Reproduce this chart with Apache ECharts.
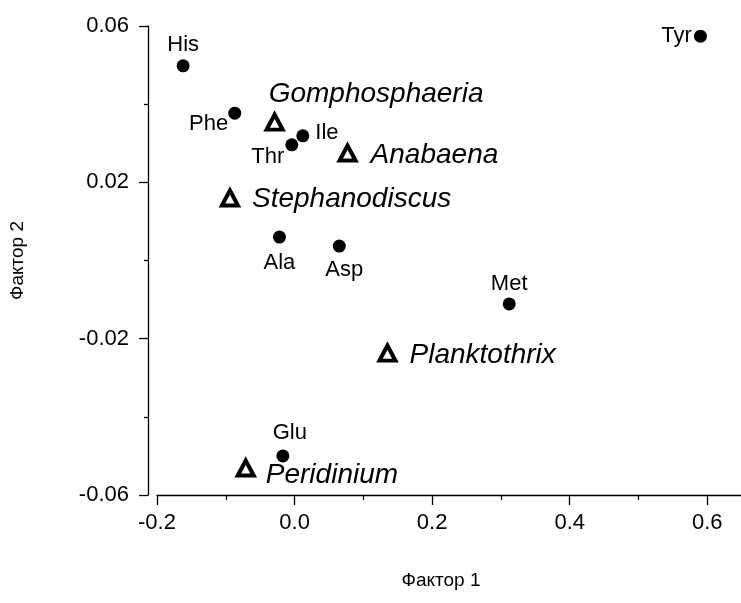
<!DOCTYPE html>
<html>
<head>
<meta charset="utf-8">
<title>Факторный анализ</title>
<script src="https://cdn.jsdelivr.net/npm/echarts@6/dist/echarts.min.js"></script>
<style>
  html, body { margin: 0; padding: 0; background: #fff; }
  #chart { width: 741px; height: 603px; }
</style>
</head>
<body>
<div id="chart"></div>
<script>
// Amino acids (filled circles): factor scores
const aminoNames = ['His', 'Phe', 'Ile', 'Thr', 'Ala', 'Asp', 'Met', 'Tyr', 'Glu'];
const aminoF1 = [-0.162, -0.087, 0.012, -0.004, -0.022, 0.065, 0.312, 0.590, -0.017];
const aminoF2 = [0.0498, 0.0377, 0.0319, 0.0296, 0.0060, 0.0037, -0.0111, 0.0574, -0.0500];

// Algal taxa (open triangles): factor scores
const taxaNames = ['Gomphosphaeria', 'Anabaena', 'Stephanodiscus', 'Planktothrix', 'Peridinium'];
const taxaF1 = [-0.029, 0.077, -0.094, 0.135, -0.071];
const taxaF2 = [0.0354, 0.0275, 0.0160, -0.0237, -0.0531];

// Axis ticks
const xTicks = [-0.2, 0.0, 0.2, 0.4, 0.6];
const xMinorTicks = [-0.1, 0.1, 0.3, 0.5];
const yTicks = [-0.06, -0.02, 0.02, 0.06];
const yMinorTicks = [-0.04, 0.0, 0.04];

// Where each point's label sits around its marker
const aminoLabelLayout = {
  His: { position: 'top', distance: 3 },
  Phe: { position: 'left', distance: 0, offset: [0, 11] },
  Ile: { position: 'right', distance: 6, offset: [0, -3] },
  Thr: { position: 'left', distance: 1, offset: [0, 12] },
  Ala: { position: 'bottom', distance: 8 },
  Asp: { position: 'bottom', distance: 6, offset: [5, 0] },
  Met: { position: 'top', distance: 2 },
  Tyr: { position: 'left', distance: 2 },
  Glu: { position: 'top', distance: 5, offset: [7, 0] }
};
const taxaLabelLayout = {
  Gomphosphaeria: { position: 'right', distance: -16, offset: [0, -28] },
  Anabaena: { position: 'right', distance: 13, offset: [0, 2] },
  Stephanodiscus: { position: 'right', distance: 12, offset: [0, 1] },
  Planktothrix: { position: 'right', distance: 12, offset: [0, 2] },
  Peridinium: { position: 'right', distance: 10, offset: [0, 7] }
};

const FONT = '"Liberation Sans", Arial, sans-serif';

function pointData(names, xs, ys, layout) {
  return names.map((n, i) => ({
    name: n,
    value: [xs[i], ys[i]],
    label: Object.assign({ show: true, formatter: n }, layout[n])
  }));
}

const chart = echarts.init(document.getElementById('chart'), null, { renderer: 'canvas' });

const axisLineStyle = { color: '#000', width: 1.3 };
const X_MIN = -0.2, X_MAX = 0.649;
const Y_MIN = -0.06, Y_MAX = 0.06;

chart.setOption({
  animation: false,
  backgroundColor: '#fff',
  grid: { left: 155, top: 26, right: 0, bottom: 108, containLabel: false },
  xAxis: [
    {
      type: 'value',
      position: 'bottom',
      min: X_MIN,
      max: X_MAX,
      name: 'Фактор 1',
      nameLocation: 'middle',
      nameGap: 76,
      nameTextStyle: { fontFamily: FONT, fontSize: 19, color: '#000', padding: [0, 16, 0, 0] },
      axisLine: { show: true, onZero: false, lineStyle: axisLineStyle },
      axisTick: { show: true, inside: false, length: 10, customValues: xTicks, lineStyle: axisLineStyle },
      axisLabel: {
        customValues: xTicks,
        margin: 17,
        fontFamily: FONT, fontSize: 22, color: '#000',
        formatter: v => v.toFixed(1)
      },
      splitLine: { show: false }
    },
    {
      type: 'value',
      position: 'bottom',
      min: X_MIN,
      max: X_MAX,
      axisLine: { show: false, onZero: false },
      axisTick: { show: true, inside: false, length: 5, customValues: xMinorTicks, lineStyle: axisLineStyle },
      axisLabel: { show: false },
      splitLine: { show: false }
    }
  ],
  yAxis: [
    {
      type: 'value',
      position: 'left',
      min: Y_MIN,
      max: Y_MAX,
      offset: 9,
      name: 'Фактор 2',
      nameLocation: 'middle',
      nameGap: 121,
      nameRotate: 90,
      nameTextStyle: { fontFamily: FONT, fontSize: 19, color: '#000' },
      axisLine: { show: true, onZero: false, lineStyle: axisLineStyle },
      axisTick: { show: true, inside: false, length: 9, customValues: yTicks, lineStyle: axisLineStyle },
      axisLabel: {
        customValues: yTicks,
        margin: 19,
        fontFamily: FONT, fontSize: 22, color: '#000',
        formatter: v => v.toFixed(2)
      },
      splitLine: { show: false }
    },
    {
      type: 'value',
      position: 'left',
      min: Y_MIN,
      max: Y_MAX,
      offset: 9,
      axisLine: { show: false, onZero: false },
      axisTick: { show: true, inside: false, length: 4, customValues: yMinorTicks, lineStyle: axisLineStyle },
      axisLabel: { show: false },
      splitLine: { show: false }
    }
  ],
  series: [
    {
      name: 'Аминокислоты',
      type: 'scatter',
      xAxisIndex: 0,
      yAxisIndex: 0,
      symbol: 'circle',
      symbolSize: 13,
      itemStyle: { color: '#000', opacity: 1 },
      label: { fontFamily: FONT, fontSize: 22, color: '#000' },
      emphasis: { disabled: true },
      data: pointData(aminoNames, aminoF1, aminoF2, aminoLabelLayout)
    },
    {
      name: 'Таксоны',
      type: 'scatter',
      xAxisIndex: 0,
      yAxisIndex: 0,
      symbol: 'triangle',
      symbolSize: [16, 15],
      itemStyle: { color: '#fff', borderColor: '#000', borderWidth: 4, opacity: 1 },
      label: { fontFamily: FONT, fontSize: 28, fontStyle: 'italic', color: '#000' },
      emphasis: { disabled: true },
      data: pointData(taxaNames, taxaF1, taxaF2, taxaLabelLayout)
    }
  ]
});
</script>
</body>
</html>
